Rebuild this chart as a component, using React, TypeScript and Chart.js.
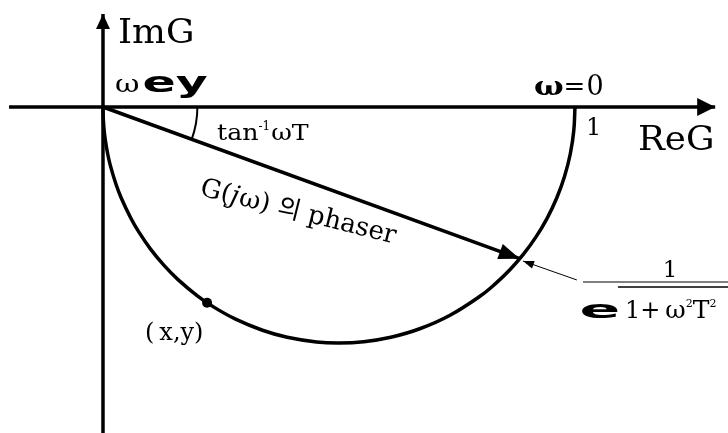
import React, { useEffect, useRef } from "react";
import { Chart, registerables } from "chart.js";

Chart.register(...registerables);

// ---------- data ----------
// normalized frequency values ωT used to trace G(jω) = 1 / (1 + jωT)
const omegaT = [
  0, 0.05, 0.1, 0.15, 0.2, 0.25, 0.3, 0.35, 0.4, 0.45, 0.5, 0.6, 0.7, 0.8, 0.9, 1,
  1.1, 1.25, 1.4, 1.6, 1.8, 2, 2.3, 2.6, 3, 3.5, 4, 5, 6, 8, 10, 14, 20, 30, 60, 1e6,
];
const phasorOmegaT = [0.364]; // tan(20°): phasor drawn to this point
const markedOmegaT = [1.88]; // the (x,y) dot
const realAxisRange = [-0.199, 1.297];
const imagAxisRange = [-0.72, 0.197];
const fractionBar = [1.017, 1.34, -0.3708];
const radicalBar = [1.091, 1.34, -0.3814];
const leaderLine = [
  [1.004, -0.3665],
  [0.8898, -0.3263],
];
const angleArcRadius = 0.2;

const G = (w: number) => ({ x: 1 / (1 + w * w), y: -w / (1 + w * w) });

// ---------- labels ----------
type Piece = { t: string; font: string; dy?: number; gap?: number; sx?: number };
type Label = { x: number; y: number; pieces: Piece[]; rot?: number; align?: "left" | "center" };

const SERIF = '"DejaVu Serif", "Noto Sans CJK KR"';
const labels: Label[] = [
  { x: 0.0318, y: 0.1356, pieces: [{ t: "ImG", font: `34px ${SERIF}`, sx: 1.05 }] },
  { x: 1.1335, y: -0.0911, pieces: [{ t: "ReG", font: `34px ${SERIF}`, sx: 1.05 }] },
  {
    x: 0.913,
    y: 0.0254,
    pieces: [
      { t: "ω", font: `bold 26px ${SERIF}`, sx: 1.2 },
      { t: "=", font: `26px ${SERIF}` },
      { t: "0", font: `27px ${SERIF}`, gap: 1 },
    ],
  },
  { x: 1.0233, y: -0.0593, pieces: [{ t: "1", font: `24px ${SERIF}` }] },
  { x: 0.0254, y: 0.0318, pieces: [{ t: "ω", font: `25px ${SERIF}`, sx: 1.2 }] },
  { x: 0.0837, y: 0.0318, pieces: [{ t: "ey", font: 'bold 28px "DejaVu Sans"', sx: 1.75 }] },
  {
    x: 0.2415,
    y: -0.0699,
    pieces: [
      { t: "tan", font: `23px ${SERIF}`, sx: 1.1 },
      { t: "-1", font: `12px ${SERIF}`, dy: -10 },
      { t: "ωT", font: `23px ${SERIF}`, gap: 1, sx: 1.1 },
    ],
  },
  {
    x: 0.2034,
    y: -0.1864,
    rot: 14,
    pieces: [
      { t: "G(", font: `26px ${SERIF}` },
      { t: "j", font: `italic 26px ${SERIF}` },
      { t: "ω) ", font: `26px ${SERIF}`, gap: 1 },
      { t: "의", font: '25px "Noto Sans CJK KR"' },
      { t: " phaser", font: `26px ${SERIF}` },
    ],
  },
  {
    x: 0.089,
    y: -0.4936,
    pieces: [
      { t: "(", font: `24px ${SERIF}` },
      { t: "x,y)", font: `24px ${SERIF}`, gap: 5 },
    ],
  },
  { x: 1.2013, y: -0.3602, align: "center", pieces: [{ t: "1", font: `23px ${SERIF}` }] },
  { x: 1.0095, y: -0.447, pieces: [{ t: "e", font: 'bold 24px "DejaVu Sans"', sx: 2.5 }] },
  {
    x: 1.1059,
    y: -0.447,
    pieces: [
      { t: "1+", font: `24px ${SERIF}` },
      { t: "ω", font: `25px ${SERIF}`, gap: 5 },
      { t: "2", font: `11px ${SERIF}`, dy: -11 },
      { t: "T", font: `25px ${SERIF}`, gap: 0 },
      { t: "2", font: `11px ${SERIF}`, dy: -11 },
    ],
  },
];

const arrowPlugin = {
  id: "arrows",
  afterDatasetsDraw(chart: any) {
    const ctx = chart.ctx;
    chart.data.datasets.forEach((ds: any, i: number) => {
      if (!ds.arrow) return;
      const meta = chart.getDatasetMeta(i);
      const n = meta.data.length;
      if (n < 2) return;
      const a = meta.data[n - 2];
      const b = meta.data[n - 1];
      const ang = Math.atan2(b.y - a.y, b.x - a.x);
      const { len, half } = ds.arrow;
      ctx.save();
      ctx.translate(b.x, b.y);
      ctx.rotate(ang);
      ctx.beginPath();
      ctx.moveTo(0, 0);
      ctx.lineTo(-len, -half);
      ctx.lineTo(-len, half);
      ctx.closePath();
      ctx.fillStyle = ds.borderColor;
      ctx.fill();
      ctx.restore();
    });
  },
};

const decorPlugin = {
  id: "decor",
  afterDraw(chart: any) {
    const ctx = chart.ctx;
    const xs = chart.scales.x;
    const ys = chart.scales.y;
    // angle arc between real axis and phasor
    const ox = xs.getPixelForValue(0);
    const oy = ys.getPixelForValue(0);
    const r = xs.getPixelForValue(angleArcRadius) - ox;
    const p = G(phasorOmegaT[0]);
    const ang = Math.atan2(ys.getPixelForValue(p.y) - oy, xs.getPixelForValue(p.x) - ox);
    ctx.save();
    ctx.strokeStyle = "#000";
    ctx.lineWidth = 2;
    ctx.beginPath();
    ctx.arc(ox, oy, r, 0, ang);
    ctx.stroke();
    ctx.restore();

    // labels
    ctx.save();
    ctx.fillStyle = "#000";
    ctx.textBaseline = "alphabetic";
    ctx.textAlign = "left";
    for (const L of labels) {
      const px = xs.getPixelForValue(L.x);
      const py = ys.getPixelForValue(L.y);
      let total = 0;
      for (const pc of L.pieces) {
        ctx.font = pc.font;
        total += (pc.gap || 0) + ctx.measureText(pc.t).width * (pc.sx || 1);
      }
      ctx.save();
      ctx.translate(px, py);
      if (L.rot) ctx.rotate((L.rot * Math.PI) / 180);
      let cur = L.align === "center" ? -total / 2 : 0;
      for (const pc of L.pieces) {
        ctx.font = pc.font;
        cur += pc.gap || 0;
        const w = ctx.measureText(pc.t).width * (pc.sx || 1);
        ctx.save();
        ctx.translate(cur, pc.dy || 0);
        ctx.scale(pc.sx || 1, 1);
        ctx.fillText(pc.t, 0, 0);
        ctx.restore();
        cur += w;
      }
      ctx.restore();
    }
    ctx.restore();
  },
};

export default function App() {
  const ref = useRef<HTMLCanvasElement | null>(null);
  useEffect(() => {
    if (!ref.current) return;
    const line = (data: any[], extra: any = {}) => ({
      data,
      showLine: true,
      borderColor: "#000",
      backgroundColor: "#000",
      borderWidth: 3.5,
      pointRadius: 0,
      tension: 0,
      ...extra,
    });
    const curve = omegaT.map(G);
    const ph = G(phasorOmegaT[0]);
    const mk = markedOmegaT.map(G);
    const chart = new Chart(ref.current, {
      type: "scatter",
      data: {
        datasets: [
          line(
            [
              { x: realAxisRange[0], y: 0 },
              { x: realAxisRange[1], y: 0 },
            ],
            { arrow: { len: 18, half: 9 } }
          ),
          line(
            [
              { x: 0, y: imagAxisRange[0] },
              { x: 0, y: imagAxisRange[1] },
            ],
            { arrow: { len: 15, half: 7 } }
          ),
          line(curve, { tension: 0.4 }),
          line(
            [
              { x: 0, y: 0 },
              { x: ph.x, y: ph.y },
            ],
            { arrow: { len: 21, half: 8 } }
          ),
          line(
            leaderLine.map(([x, y]) => ({ x, y })),
            { borderWidth: 1, arrow: { len: 11, half: 4 } }
          ),
          line(
            [
              { x: fractionBar[0], y: fractionBar[2] },
              { x: fractionBar[1], y: fractionBar[2] },
            ],
            { borderWidth: 2, borderColor: "#808080" }
          ),
          line(
            [
              { x: radicalBar[0], y: radicalBar[2] },
              { x: radicalBar[1], y: radicalBar[2] },
            ],
            { borderWidth: 1.5 }
          ),
          {
            data: mk,
            showLine: false,
            pointRadius: 5,
            pointBackgroundColor: "#000",
            pointBorderColor: "#000",
            pointBorderWidth: 0,
          },
        ] as any,
      },
      options: {
        animation: false,
        responsive: false,
        devicePixelRatio: 1,
        events: [],
        layout: { padding: 0, autoPadding: false } as any,
        plugins: { legend: { display: false }, tooltip: { enabled: false } },
        scales: {
          x: { type: "linear", min: -0.2182, max: 1.3242, display: false },
          y: { type: "linear", min: -0.6907, max: 0.2267, display: false },
        },
      },
      plugins: [arrowPlugin, decorPlugin],
    });
    return () => chart.destroy();
  }, []);
  return (
    <div style={{ position: "fixed", left: 0, top: 0, width: 728, height: 433, background: "#fff" }}>
      <canvas ref={ref} width={728} height={433} style={{ display: "block" }} />
    </div>
  );
}
